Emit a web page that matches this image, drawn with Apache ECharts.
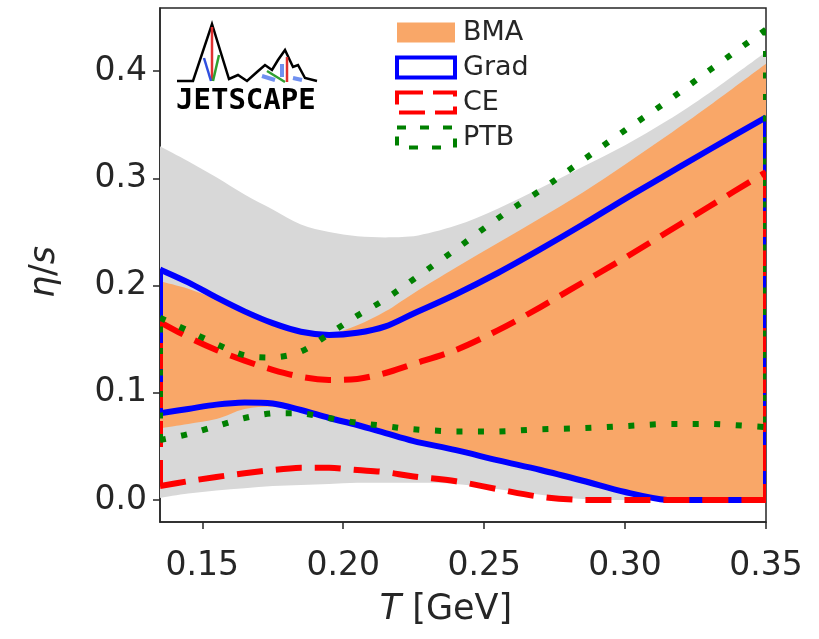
<!DOCTYPE html>
<html>
<head>
<meta charset="utf-8">
<title>eta/s vs T</title>
<script src="https://cdn.jsdelivr.net/npm/echarts@6/dist/echarts.min.js"></script>
</head>
<body style="margin:0;background:#fff">
<div id="main" style="width:819px;height:639px"></div>
<script>
// temperature grid [GeV]
var T = [0.135, 0.145, 0.155, 0.165, 0.175, 0.185, 0.195, 0.205, 0.215, 0.225, 0.24, 0.255, 0.27, 0.285, 0.30, 0.315, 0.33, 0.35];
// outer band (gray)
var grayUp  = [0.330, 0.316, 0.301, 0.285, 0.271, 0.257, 0.250, 0.246, 0.245, 0.246, 0.256, 0.272, 0.291, 0.311, 0.331, 0.354, 0.380, 0.418];
var grayLow = [0.002, 0.006, 0.009, 0.011, 0.013, 0.014, 0.015, 0.016, 0.016, 0.016, 0.015, 0.010, 0.005, 0.001, 0, 0, 0, 0];
// BMA band
var bmaUp  = [0.204, 0.197, 0.187, 0.175, 0.164, 0.157, 0.155, 0.163, 0.176, 0.193, 0.217, 0.240, 0.263, 0.287, 0.313, 0.340, 0.368, 0.407];
var bmaLow = [0.067, 0.071, 0.0755, 0.085, 0.087, 0.084, 0.0765, 0.070, 0.0625, 0.055, 0.0465, 0.037, 0.028, 0.018, 0.0075, 0, 0, 0];
// Grad
var gradUp  = [0.215, 0.203, 0.189, 0.176, 0.165, 0.157, 0.154, 0.156, 0.162, 0.174, 0.192, 0.212, 0.234, 0.257, 0.281, 0.304, 0.327, 0.357];
var gradLow = [0.081, 0.085, 0.089, 0.091, 0.090, 0.084, 0.0765, 0.070, 0.0625, 0.055, 0.0465, 0.037, 0.028, 0.018, 0.0075, 0, 0, 0];
// CE
var ceUp  = [0.166, 0.152, 0.140, 0.130, 0.1215, 0.115, 0.112, 0.113, 0.1185, 0.127, 0.140, 0.1585, 0.180, 0.203, 0.226, 0.250, 0.274, 0.306];
var ceLow = [0.013, 0.0175, 0.0215, 0.025, 0.028, 0.030, 0.030, 0.028, 0.026, 0.022, 0.0175, 0.010, 0.003, 0, 0, 0, 0, 0];
// PTB
var ptbUp  = [0.170, 0.158, 0.1455, 0.135, 0.133, 0.1385, 0.155, 0.172, 0.1875, 0.206, 0.234, 0.263, 0.289, 0.317, 0.345, 0.372, 0.401, 0.439];
var ptbLow = [0.056, 0.0615, 0.069, 0.0765, 0.081, 0.081, 0.0765, 0.072, 0.069, 0.066, 0.064, 0.064, 0.066, 0.067, 0.069, 0.071, 0.071, 0.068];

var xTicks = [0.15, 0.20, 0.25, 0.30, 0.35];
var yTicks = [0.0, 0.1, 0.2, 0.3, 0.4];

var ink = '#262626';
var orange = '#f9a768';

// cubic segments through screen points (catmull-rom, no overshoot in y)
function curve(pts) {
    var d = '';
    for (var i = 0; i < pts.length - 1; i++) {
        var p0 = pts[Math.max(i - 1, 0)], p1 = pts[i], p2 = pts[i + 1], p3 = pts[Math.min(i + 2, pts.length - 1)];
        var lo = Math.min(p1[1], p2[1]), hi = Math.max(p1[1], p2[1]);
        var c1x = p1[0] + (p2[0] - p0[0]) / 6, c1y = Math.min(hi, Math.max(lo, p1[1] + (p2[1] - p0[1]) / 6));
        var c2x = p2[0] - (p3[0] - p1[0]) / 6, c2y = Math.min(hi, Math.max(lo, p2[1] - (p3[1] - p1[1]) / 6));
        d += ' C' + c1x + ' ' + c1y + ' ' + c2x + ' ' + c2y + ' ' + p2[0] + ' ' + p2[1];
    }
    return d;
}

function project(api, up, low) {
    var top = [], bot = [];
    for (var i = 0; i < T.length; i++) {
        top.push(api.coord([T[i], up[i]]));
        bot.push(api.coord([T[i], low[i]]));
    }
    return { top: top, bot: bot };
}

function band(name, up, low, color, z) {
    return {
        type: 'custom', name: name, clip: true, z: z,
        itemStyle: { color: color },
        data: [[T[0], low[0]]],
        renderItem: function (params, api) {
            var p = project(api, up, low);
            var rb = p.bot.slice().reverse();
            var d = 'M' + p.top[0][0] + ' ' + p.top[0][1] + curve(p.top) +
                ' L' + rb[0][0] + ' ' + rb[0][1] + curve(rb) + ' Z';
            return { type: 'path', shape: { pathData: d }, style: { fill: color, stroke: 'none' } };
        }
    };
}

function outline(name, up, low, color, dash, z) {
    return {
        type: 'custom', name: name, clip: true, z: z,
        itemStyle: { color: color },
        data: [[T[0], low[0]]],
        renderItem: function (params, api) {
            var p = project(api, up, low);
            var n = T.length - 1;
            var st = { stroke: color, lineWidth: 6, lineDash: dash, fill: 'none', lineCap: 'butt' };
            return {
                type: 'group', children: [
                    { type: 'path', shape: { pathData: 'M' + p.top[0][0] + ' ' + p.top[0][1] + curve(p.top) }, style: st },
                    { type: 'path', shape: { pathData: 'M' + p.bot[0][0] + ' ' + p.bot[0][1] + curve(p.bot) }, style: st },
                    { type: 'polyline', shape: { points: [p.bot[0], p.top[0]] }, style: st },
                    { type: 'polyline', shape: { points: [p.top[n], p.bot[n]] }, style: st }
                ]
            };
        }
    };
}

var myChart = echarts.init(document.getElementById('main'));

var option = {
    animation: false,
    backgroundColor: '#fff',
    textStyle: { fontFamily: 'DejaVu Sans', color: ink },
    grid: { left: 160, right: 53, top: 8, bottom: 117, show: true, borderColor: ink, borderWidth: 1.5, backgroundColor: 'transparent' },
    legend: {
        orient: 'vertical', left: 395, top: 19, padding: 0,
        itemWidth: 58, itemHeight: 20, itemGap: 8,
        selectedMode: false,
        textStyle: { fontSize: 27, color: ink, lineHeight: 27, padding: [0, 0, 0, 3] },
        data: [
            { name: 'BMA', icon: 'rect', itemStyle: { color: orange, borderWidth: 0 } },
            { name: 'Grad', icon: 'rect', itemStyle: { color: '#fff', borderColor: '#0000ff', borderWidth: 4 } },
            { name: 'CE', icon: 'rect', itemStyle: { color: '#fff', borderColor: '#ff0000', borderWidth: 4, borderType: [26, 10] } },
            { name: 'PTB', icon: 'rect', itemStyle: { color: '#fff', borderColor: '#008000', borderWidth: 4, borderType: [9, 14] } }
        ]
    },
    xAxis: {
        type: 'value', min: 0.135, max: 0.35,
        name: '{i|T} [GeV]', nameLocation: 'middle', nameGap: 70,
        nameTextStyle: { fontSize: 35, color: ink, padding: [0, 34, 0, 0], rich: { i: { fontSize: 35, fontStyle: 'italic', color: ink } } },
        axisLine: { show: true, onZero: false, lineStyle: { color: ink, width: 1.5 } },
        axisTick: { show: true, length: 7, customValues: xTicks, lineStyle: { color: ink, width: 1.5 } },
        axisLabel: { customValues: xTicks, fontSize: 33, color: ink, margin: 28, formatter: function (v) { return v.toFixed(2); } },
        splitLine: { show: false }
    },
    yAxis: {
        type: 'value', min: -0.0205, max: 0.459,
        name: '{i|η}/{i|s}', nameLocation: 'middle', nameGap: 98,
        nameTextStyle: { fontSize: 35, color: ink, padding: [0, 14, 0, 0], rich: { i: { fontSize: 35, fontStyle: 'italic', color: ink } } },
        axisLine: { show: true, onZero: false, lineStyle: { color: ink, width: 1.5 } },
        axisTick: { show: true, length: 7, customValues: yTicks, lineStyle: { color: ink, width: 1.5 } },
        axisLabel: { customValues: yTicks, fontSize: 33, color: ink, margin: 13, formatter: function (v) { return v.toFixed(1); } },
        splitLine: { show: false }
    },
    graphic: [
        // JETSCAPE logo
        { type: 'polyline', z: 100, shape: { points: [[177, 81], [193, 81], [212, 24], [229, 79], [238, 75], [247, 81], [257, 72], [265, 65], [272, 70], [278, 60], [285, 50], [293, 67], [298, 65], [305, 78], [317, 81]] }, style: { stroke: '#000', lineWidth: 2.5, fill: null } },
        { type: 'line', z: 100, shape: { x1: 212, y1: 27, x2: 212, y2: 81 }, style: { stroke: '#e03030', lineWidth: 2.5 } },
        { type: 'line', z: 100, shape: { x1: 204, y1: 58, x2: 211, y2: 81 }, style: { stroke: '#3050e0', lineWidth: 2.5 } },
        { type: 'line', z: 100, shape: { x1: 219, y1: 55, x2: 213, y2: 81 }, style: { stroke: '#30a030', lineWidth: 2.5 } },
        { type: 'line', z: 100, shape: { x1: 287, y1: 57, x2: 287, y2: 82 }, style: { stroke: '#e03030', lineWidth: 2.5 } },
        { type: 'line', z: 100, shape: { x1: 267, y1: 71, x2: 285, y2: 82 }, style: { stroke: '#30a030', lineWidth: 2.5 } },
        { type: 'line', z: 99, shape: { x1: 262, y1: 76, x2: 275, y2: 80 }, style: { stroke: '#7090f0', lineWidth: 4 } },
        { type: 'line', z: 99, shape: { x1: 282, y1: 64, x2: 282, y2: 77 }, style: { stroke: '#7090f0', lineWidth: 4 } },
        { type: 'line', z: 99, shape: { x1: 293, y1: 78, x2: 302, y2: 80 }, style: { stroke: '#7090f0', lineWidth: 4 } },
        { type: 'text', z: 100, left: 176, top: 87, style: { text: 'JETSCAPE', font: 'bold 29px "DejaVu Sans Mono"', fill: '#000' } }
    ],
    series: [
        band('gray', grayUp, grayLow, '#d8d8d8', 1),
        band('BMA', bmaUp, bmaLow, orange, 2),
        outline('Grad', gradUp, gradLow, '#0000ff', null, 3),
        outline('CE', ceUp, ceLow, '#ff0000', [26, 13], 4),
        outline('PTB', ptbUp, ptbLow, '#008000', [6, 15.5], 5)
    ]
};

myChart.setOption(option);
</script>
</body>
</html>
